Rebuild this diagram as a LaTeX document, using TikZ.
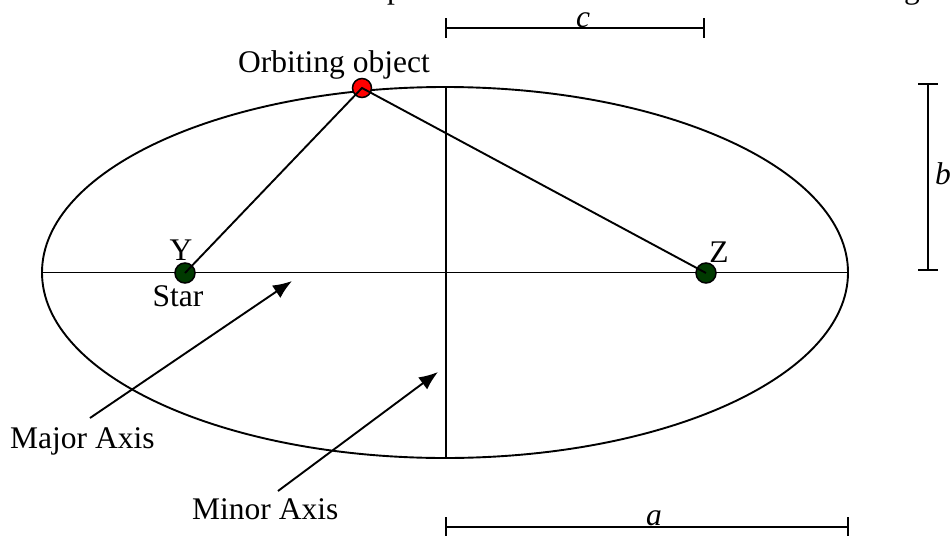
\documentclass[tikz,border=0pt]{standalone}
\usepackage{fontspec}
\setmainfont{Liberation Serif}
\usetikzlibrary{arrows.meta}
\definecolor{stargreen}{RGB}{0,58,0}
\tikzset{
  lbl/.style={font=\fontsize{31.5}{36}\selectfont, inner sep=0pt},
  line/.style={line width=1.9pt, black},
  body/.style={circle, draw=black, line width=1.5pt, inner sep=0pt},
  pointer/.style={line width=1.9pt, -{Latex[length=19pt,width=15pt]}},
}
\begin{document}
\begin{tikzpicture}[x=1pt,y=-1pt]
\useasboundingbox (0,0) rectangle (952,535);
\begin{scope}
\clip (0,0) rectangle (952,535);
\node[lbl, anchor=base] (topp) at (395,-1) {p};
\node[lbl, anchor=base] (topg) at (912,-1) {g};
\end{scope}
% ellipse and axes
\draw[line] (445,272.5) ellipse [x radius=403, y radius=185.5];
\coordinate (L) at (42,272.5);
\coordinate (R) at (848,272.5);
\coordinate (T) at (446,87);
\coordinate (B) at (446,458);
\draw[line] (L) -- (R);
\draw[line] (T) -- (B);
% bodies
\node[body, fill=stargreen, minimum size=20pt] (Y) at (185,273) {};
\node[body, fill=stargreen, minimum size=20pt] (Z) at (706,273) {};
\node[body, fill=red, minimum size=19pt] (O) at (362,88) {};
\draw[line] (Y.center) -- (O.center) -- (Z.center);
% labels
\node[lbl, anchor=base west] (orb) at (238,73) {Orbiting object};
\node[lbl, anchor=base] (ylbl) at (181,260) {Y};
\node[lbl, anchor=base] (zlbl) at (719,262) {Z};
\node[lbl, anchor=base] (star) at (178,306) {Star};
\node[lbl, anchor=base west] (major) at (10,448) {Major Axis};
\node[lbl, anchor=base west] (minor) at (192,519) {Minor Axis};
% pointers
\coordinate (majtail) at (90,418);
\coordinate (majtip) at (292,281);
\coordinate (mintail) at (278,491);
\coordinate (mintip) at (438,372);
\draw[pointer] (majtail) -- (majtip);
\draw[pointer] (mintail) -- (mintip);
% dimension bars
\coordinate (c1) at (446,28); \coordinate (c2) at (704,28);
\draw[line] (c1) -- (c2);
\draw[line] ([yshift=-10pt]c1) -- ([yshift=10pt]c1);
\draw[line] ([yshift=-10pt]c2) -- ([yshift=10pt]c2);
\node[lbl, anchor=base] (clbl) at (583,28) {\textit{c}};
\coordinate (a1) at (446,527); \coordinate (a2) at (848,527);
\draw[line] (a1) -- (a2);
\draw[line] ([yshift=-10pt]a1) -- ([yshift=10pt]a1);
\draw[line] ([yshift=-10pt]a2) -- ([yshift=10pt]a2);
\node[lbl, anchor=base] (albl) at (654,525) {\textit{a}};
\coordinate (b1) at (928,84); \coordinate (b2) at (928,270);
\draw[line] (b1) -- (b2);
\draw[line] ([xshift=-10pt]b1) -- ([xshift=10pt]b1);
\draw[line] ([xshift=-10pt]b2) -- ([xshift=10pt]b2);
\node[lbl, anchor=base] (blbl) at (943,184) {\textit{b}};
\end{tikzpicture}
\end{document}
